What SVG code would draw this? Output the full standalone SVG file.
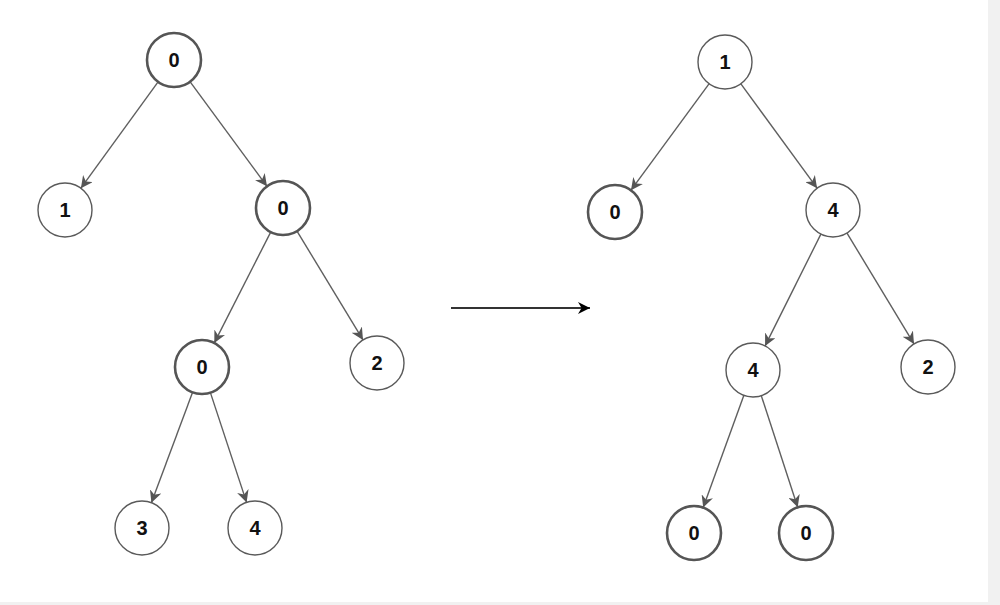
<svg xmlns="http://www.w3.org/2000/svg" width="1000" height="605" viewBox="0 0 1000 605">
<style>
.n circle{fill:#fff;stroke:#5a5a5a;stroke-width:1.4}
.n.b circle{stroke:#555;stroke-width:2.6}
.n text{font-family:"Liberation Sans",Arial,sans-serif;font-weight:bold;font-size:20px;fill:#111;text-anchor:middle;dominant-baseline:central}
.e line{stroke:#5f5f5f;stroke-width:1.4;marker-end:url(#ah)}
</style>
<defs>
<marker id="ah" viewBox="0 0 10 10" refX="10" refY="5" markerWidth="12" markerHeight="12" markerUnits="userSpaceOnUse" orient="auto">
<path d="M0,0 L10,5 L0,10 L3,5 Z" fill="#555"/>
</marker>
<marker id="ah2" viewBox="0 0 10 10" refX="10" refY="5" markerWidth="12" markerHeight="12" markerUnits="userSpaceOnUse" orient="auto">
<path d="M0,0 L10,5 L0,10 L3,5 Z" fill="#000"/>
</marker>
</defs>
<rect x="0" y="0" width="1000" height="605" fill="#f1f1f1"/>
<rect x="0" y="0" width="988" height="602" fill="#fff"/>
<g id="connectors" class="e">
<line x1="158.1" y1="81.8" x2="80.9" y2="188.2"/>
<line x1="190.0" y1="81.7" x2="267.0" y2="186.3"/>
<line x1="270.7" y1="232.1" x2="214.3" y2="342.9"/>
<line x1="297.0" y1="231.1" x2="363.0" y2="339.9"/>
<line x1="192.6" y1="392.3" x2="151.4" y2="502.7"/>
<line x1="210.4" y1="392.6" x2="246.6" y2="502.4"/>
<line x1="709.0" y1="83.8" x2="631.0" y2="190.2"/>
<line x1="740.9" y1="83.8" x2="817.1" y2="188.2"/>
<line x1="820.9" y1="234.1" x2="765.1" y2="345.9"/>
<line x1="847.0" y1="233.1" x2="914.0" y2="343.9"/>
<line x1="743.8" y1="395.4" x2="703.2" y2="507.6"/>
<line x1="761.3" y1="395.7" x2="797.7" y2="507.3"/>
<line x1="451" y1="308" x2="590" y2="308" style="stroke:#333;stroke-width:1.8;marker-end:url(#ah2)"/>
</g>
<g id="L0" class="n b"><circle cx="174" cy="60" r="27"/><text x="174" y="60">0</text></g>
<g id="L1" class="n"><circle cx="65" cy="210" r="27"/><text x="65" y="210">1</text></g>
<g id="L2" class="n b"><circle cx="283" cy="208" r="27"/><text x="283" y="208">0</text></g>
<g id="L3" class="n b"><circle cx="202" cy="367" r="27"/><text x="202" y="367">0</text></g>
<g id="L4" class="n"><circle cx="377" cy="363" r="27"/><text x="377" y="363">2</text></g>
<g id="L5" class="n"><circle cx="142" cy="528" r="27"/><text x="142" y="528">3</text></g>
<g id="L6" class="n"><circle cx="255" cy="528" r="27"/><text x="255" y="528">4</text></g>
<g id="R0" class="n"><circle cx="725" cy="62" r="27"/><text x="725" y="62">1</text></g>
<g id="R1" class="n b"><circle cx="615" cy="212" r="27"/><text x="615" y="212">0</text></g>
<g id="R2" class="n"><circle cx="833" cy="210" r="27"/><text x="833" y="210">4</text></g>
<g id="R3" class="n"><circle cx="753" cy="370" r="27"/><text x="753" y="370">4</text></g>
<g id="R4" class="n"><circle cx="928" cy="367" r="27"/><text x="928" y="367">2</text></g>
<g id="R5" class="n b"><circle cx="694" cy="533" r="27"/><text x="694" y="533">0</text></g>
<g id="R6" class="n b"><circle cx="806" cy="533" r="27"/><text x="806" y="533">0</text></g>
</svg>
